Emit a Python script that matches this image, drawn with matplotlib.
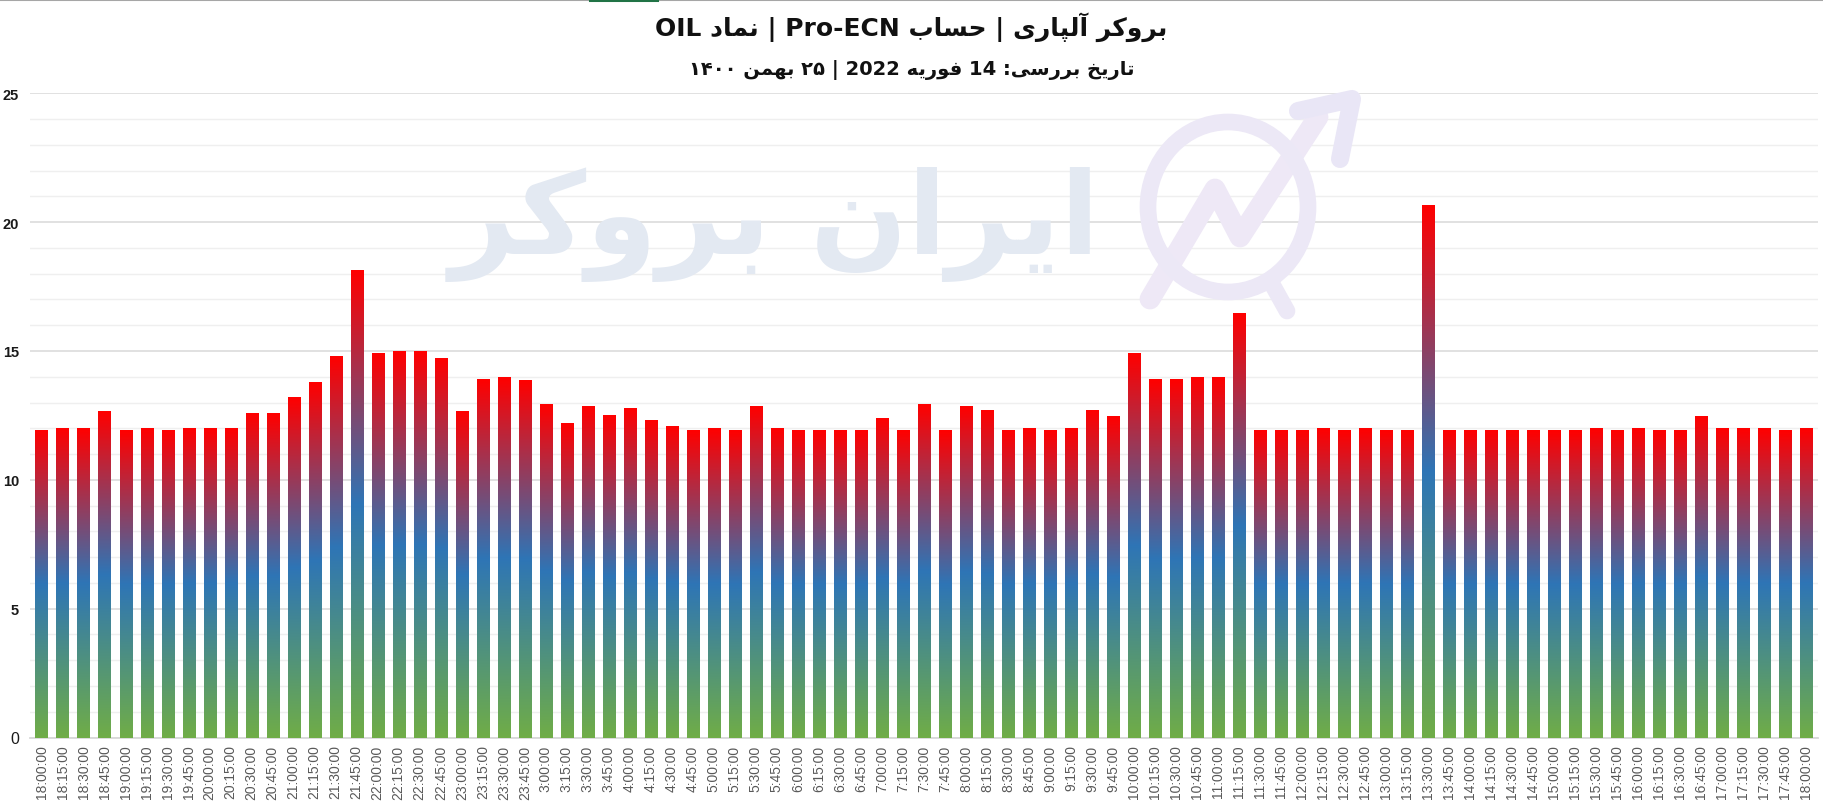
import numpy as np
import matplotlib
matplotlib.use("Agg")
import matplotlib.pyplot as plt
from matplotlib.colors import LinearSegmentedColormap
from matplotlib.lines import Line2D
from matplotlib.patches import Ellipse

# ---------------- data ----------------
time_labels = [
    "18:00:00", "18:15:00", "18:30:00", "18:45:00", "19:00:00", "19:15:00", "19:30:00", "19:45:00",
    "20:00:00", "20:15:00", "20:30:00", "20:45:00", "21:00:00", "21:15:00", "21:30:00", "21:45:00",
    "22:00:00", "22:15:00", "22:30:00", "22:45:00", "23:00:00", "23:15:00", "23:30:00", "23:45:00",
    "3:00:00", "3:15:00", "3:30:00", "3:45:00", "4:00:00", "4:15:00", "4:30:00", "4:45:00",
    "5:00:00", "5:15:00", "5:30:00", "5:45:00", "6:00:00", "6:15:00", "6:30:00", "6:45:00",
    "7:00:00", "7:15:00", "7:30:00", "7:45:00", "8:00:00", "8:15:00", "8:30:00", "8:45:00",
    "9:00:00", "9:15:00", "9:30:00", "9:45:00", "10:00:00", "10:15:00", "10:30:00", "10:45:00",
    "11:00:00", "11:15:00", "11:30:00", "11:45:00", "12:00:00", "12:15:00", "12:30:00", "12:45:00",
    "13:00:00", "13:15:00", "13:30:00", "13:45:00", "14:00:00", "14:15:00", "14:30:00", "14:45:00",
    "15:00:00", "15:15:00", "15:30:00", "15:45:00", "16:00:00", "16:15:00", "16:30:00", "16:45:00",
    "17:00:00", "17:15:00", "17:30:00", "17:45:00", "18:00:00",
]

spread_values = [
    11.93, 12.00, 12.00, 12.67, 11.93, 12.00, 11.93, 12.00,
    12.00, 12.00, 12.59, 12.59, 13.22, 13.80, 14.82, 18.14,
    14.93, 15.01, 15.01, 14.74, 12.67, 13.92, 14.00, 13.88,
    12.94, 12.20, 12.86, 12.51, 12.79, 12.32, 12.08, 11.93,
    12.00, 11.93, 12.86, 12.00, 11.93, 11.93, 11.93, 11.93,
    12.40, 11.93, 12.94, 11.93, 12.86, 12.71, 11.93, 12.00,
    11.93, 12.00, 12.71, 12.47, 14.93, 13.92, 13.92, 14.00,
    14.00, 16.48, 11.93, 11.93, 11.93, 12.00, 11.93, 12.00,
    11.93, 11.93, 20.67, 11.93, 11.93, 11.93, 11.93, 11.93,
    11.93, 11.93, 12.00, 11.93, 12.00, 11.93, 11.93, 12.48,
    12.00, 12.00, 12.00, 11.93, 12.00,
]

y_ticks = [0, 5, 10, 15, 20, 25]

title_text = "بروکر آلپاری | حساب Pro-ECN | نماد OIL"
subtitle_text = "تاریخ بررسی: 14 فوریه 2022 | ۲۵ بهمن ۱۴۰۰"
watermark_text = "ایران بروکر"

# ---------------- minimal Persian shaping (matplotlib has no complex text layout) ----------------
FORMS = {
    '\u0627': ('\uFE8D', '\uFE8E', None, None),
    '\u0622': ('\uFE81', '\uFE82', None, None),
    '\u0628': ('\uFE8F', '\uFE90', '\uFE91', '\uFE92'),
    '\u067E': ('\uFB56', '\uFB57', '\uFB58', '\uFB59'),
    '\u062A': ('\uFE95', '\uFE96', '\uFE97', '\uFE98'),
    '\u062D': ('\uFEA1', '\uFEA2', '\uFEA3', '\uFEA4'),
    '\u062E': ('\uFEA5', '\uFEA6', '\uFEA7', '\uFEA8'),
    '\u062F': ('\uFEA9', '\uFEAA', None, None),
    '\u0631': ('\uFEAD', '\uFEAE', None, None),
    '\u0633': ('\uFEB1', '\uFEB2', '\uFEB3', '\uFEB4'),
    '\u0641': ('\uFED1', '\uFED2', '\uFED3', '\uFED4'),
    '\u06A9': ('\uFB8E', '\uFB8F', '\uFB90', '\uFB91'),
    '\u0644': ('\uFEDD', '\uFEDE', '\uFEDF', '\uFEE0'),
    '\u0645': ('\uFEE1', '\uFEE2', '\uFEE3', '\uFEE4'),
    '\u0646': ('\uFEE5', '\uFEE6', '\uFEE7', '\uFEE8'),
    '\u0647': ('\uFEE9', '\uFEEA', '\uFEEB', '\uFEEC'),
    '\u0648': ('\uFEED', '\uFEEE', None, None),
    '\u06CC': ('\uFBFC', '\uFBFD', '\uFBFE', '\uFBFF'),
}


def shape_word(w):
    out = []
    n = len(w)
    for i, c in enumerate(w):
        if c not in FORMS:
            out.append(c)
            continue
        f = FORMS[c]
        prev = w[i - 1] if i > 0 else None
        nxt = w[i + 1] if i < n - 1 else None
        jp = prev in FORMS and FORMS[prev][2] is not None
        jn = nxt in FORMS and f[2] is not None
        if jp and jn:
            out.append(f[3])
        elif jp:
            out.append(f[1])
        elif jn:
            out.append(f[2])
        else:
            out.append(f[0])
    return ''.join(out)


def to_visual(s):
    vis = []
    for t in reversed(s.split(' ')):
        if any(c in FORMS for c in t):
            vis.append(shape_word(t)[::-1])
        else:
            vis.append(t)
    return ' '.join(vis)


# ---------------- figure ----------------
W, H = 1823, 812
fig = plt.figure(figsize=(W / 100, H / 100), dpi=100)
fig.patch.set_facecolor("white")

ax_left, ax_right = 30 / W, 1818 / W
ax_bottom, ax_top = (H - 738.5) / H, (H - 94.3) / H
ax = fig.add_axes([ax_left, ax_bottom, ax_right - ax_left, ax_top - ax_bottom])
ax.set_facecolor("none")

x = np.arange(len(spread_values))
bars = ax.bar(x, spread_values, width=0.58, color="none", edgecolor="none", zorder=3)

cmap = LinearSegmentedColormap.from_list(
    "grad", [(0.0, "#70AD47"), (0.5, "#2E75B6"), (1.0, "#FF0000")])
grad = np.linspace(0, 1, 256).reshape(-1, 1)
for b in bars:
    bx, bw, bh = b.get_x(), b.get_width(), b.get_height()
    ax.imshow(grad, cmap=cmap, origin="lower", aspect="auto",
              extent=(bx, bx + bw, 0, bh), zorder=3, interpolation="bilinear")

ax.set_xlim(-0.55, len(spread_values) - 1 + 0.55)
ax.set_ylim(0, 25)

ax.set_yticks(y_ticks)
ax.set_yticks(np.arange(0, 26, 1), minor=True)
ax.grid(axis="y", which="major", color="#D9D9D9", linewidth=1.1, zorder=1)
ax.grid(axis="y", which="minor", color="#EFEFEF", linewidth=1.0, zorder=1)
ax.grid(axis="x", visible=False)
ax.set_axisbelow(True)

ax.set_xticks(x)
ax.set_xticklabels(time_labels, rotation=90, fontsize=10, color="#595959",
                   family="Liberation Sans")
ax.tick_params(axis="x", length=0, pad=5)
ax.tick_params(axis="y", which="both", length=0, pad=8)
for lab, v in zip(ax.get_yticklabels(), y_ticks):
    lab.set_family("Liberation Sans")
    lab.set_color("#1a1a1a")
    if v != 0:
        lab.set_fontsize(10.5)
        lab.set_fontweight("bold")
    else:
        lab.set_fontsize(11.5)

for s in ["top", "right", "left"]:
    ax.spines[s].set_visible(False)
ax.spines["bottom"].set_color("#D9D9D9")
ax.spines["bottom"].set_linewidth(1.3)

# ---------------- watermark (behind grid) ----------------
fx = lambda px: px / W
fy = lambda py: (H - py) / H
fig.text(fx(775), fy(225), to_visual(watermark_text), ha="center", va="center",
         fontsize=82, fontweight="bold", color="#E3E9F2", family="DejaVu Sans", zorder=0)
fig.patches.append(Ellipse((fx(1228), fy(208)), width=160 / W, height=170 / H, angle=0,
                           transform=fig.transFigure, fill=False,
                           edgecolor="#ECE8F6", linewidth=12, zorder=0))
fig.lines.append(Line2D([fx(1150), fx(1215), fx(1240), fx(1318)],
                        [fy(300), fy(190), fy(238), fy(118)],
                        transform=fig.transFigure, color="#EEE8F6", linewidth=15,
                        solid_capstyle="round", solid_joinstyle="round", zorder=0))
fig.lines.append(Line2D([fx(1298), fx(1352), fx(1340)],
                        [fy(112), fy(100), fy(160)],
                        transform=fig.transFigure, color="#E9E6F6", linewidth=13,
                        solid_capstyle="round", solid_joinstyle="round", zorder=0))
fig.lines.append(Line2D([fx(1272), fx(1287)], [fy(285), fy(312)],
                        transform=fig.transFigure, color="#ECE8F6", linewidth=12,
                        solid_capstyle="round", zorder=0))

# ---------------- titles ----------------
fig.text(0.5, fy(27), to_visual(title_text), ha="center", va="center",
         fontsize=18, fontweight="bold", color="#111111", family="DejaVu Sans")
fig.text(0.5, fy(70), to_visual(subtitle_text), ha="center", va="center",
         fontsize=14, fontweight="bold", color="#111111", family="DejaVu Sans")

# top frame line (window edge)
fig.lines.append(Line2D([0, 1], [1 - 1 / H, 1 - 1 / H], transform=fig.transFigure,
                        color="#A6A6A6", linewidth=1.5))
fig.lines.append(Line2D([fx(590), fx(657)], [1 - 1 / H, 1 - 1 / H], transform=fig.transFigure,
                        color="#217346", linewidth=2.2))

fig.savefig("out.png", dpi=100, facecolor="white")
